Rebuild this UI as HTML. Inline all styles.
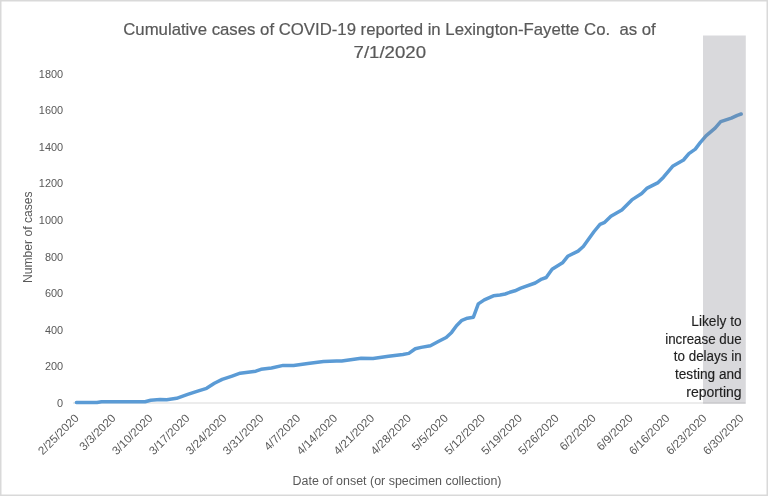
<!DOCTYPE html>
<html><head><meta charset="utf-8"><style>
html,body{margin:0;padding:0;background:#fff;}
body{width:768px;height:496px;overflow:hidden;position:relative;}
svg{position:absolute;left:0;top:0;display:block;will-change:transform;}
text{font-family:"Liberation Sans",sans-serif;}
</style></head><body>
<svg width="768" height="496" viewBox="0 0 768 496">
<rect x="0" y="0" width="768" height="496" fill="#fff"/>
<rect x="0.75" y="0.75" width="766.5" height="494.5" fill="none" stroke="#d9d9d9" stroke-width="1.5"/>
<g fill="#595959" font-size="16.6" stroke="#595959" stroke-width="0.2">
<text xml:space="preserve" x="389.5" y="34.7" text-anchor="middle" textLength="532.5" lengthAdjust="spacingAndGlyphs">Cumulative cases of COVID-19 reported in Lexington-Fayette Co.  as of</text>
<text x="389.8" y="57.5" text-anchor="middle" textLength="72.5" lengthAdjust="spacingAndGlyphs">7/1/2020</text>
</g>
<g fill="#595959" font-size="11.3">
<text x="63.2" y="406.5" text-anchor="end" textLength="6.08" lengthAdjust="spacingAndGlyphs">0</text>
<text x="63.2" y="370.0" text-anchor="end" textLength="18.25" lengthAdjust="spacingAndGlyphs">200</text>
<text x="63.2" y="333.5" text-anchor="end" textLength="18.25" lengthAdjust="spacingAndGlyphs">400</text>
<text x="63.2" y="297.0" text-anchor="end" textLength="18.25" lengthAdjust="spacingAndGlyphs">600</text>
<text x="63.2" y="260.5" text-anchor="end" textLength="18.25" lengthAdjust="spacingAndGlyphs">800</text>
<text x="63.2" y="223.9" text-anchor="end" textLength="24.34" lengthAdjust="spacingAndGlyphs">1000</text>
<text x="63.2" y="187.4" text-anchor="end" textLength="24.34" lengthAdjust="spacingAndGlyphs">1200</text>
<text x="63.2" y="150.9" text-anchor="end" textLength="24.34" lengthAdjust="spacingAndGlyphs">1400</text>
<text x="63.2" y="114.4" text-anchor="end" textLength="24.34" lengthAdjust="spacingAndGlyphs">1600</text>
<text x="63.2" y="77.9" text-anchor="end" textLength="24.34" lengthAdjust="spacingAndGlyphs">1800</text>

</g>
<g fill="#595959" font-size="11.6">
<text transform="translate(76.7,416.0) rotate(-45)" text-anchor="end" dy="4" textLength="51.9" lengthAdjust="spacingAndGlyphs">2/25/2020</text>
<text transform="translate(113.6,416.0) rotate(-45)" text-anchor="end" dy="4" textLength="45.8" lengthAdjust="spacingAndGlyphs">3/3/2020</text>
<text transform="translate(150.6,416.0) rotate(-45)" text-anchor="end" dy="4" textLength="51.9" lengthAdjust="spacingAndGlyphs">3/10/2020</text>
<text transform="translate(187.5,416.0) rotate(-45)" text-anchor="end" dy="4" textLength="51.9" lengthAdjust="spacingAndGlyphs">3/17/2020</text>
<text transform="translate(224.4,416.0) rotate(-45)" text-anchor="end" dy="4" textLength="51.9" lengthAdjust="spacingAndGlyphs">3/24/2020</text>
<text transform="translate(261.4,416.0) rotate(-45)" text-anchor="end" dy="4" textLength="51.9" lengthAdjust="spacingAndGlyphs">3/31/2020</text>
<text transform="translate(298.3,416.0) rotate(-45)" text-anchor="end" dy="4" textLength="45.8" lengthAdjust="spacingAndGlyphs">4/7/2020</text>
<text transform="translate(335.2,416.0) rotate(-45)" text-anchor="end" dy="4" textLength="51.9" lengthAdjust="spacingAndGlyphs">4/14/2020</text>
<text transform="translate(372.2,416.0) rotate(-45)" text-anchor="end" dy="4" textLength="51.9" lengthAdjust="spacingAndGlyphs">4/21/2020</text>
<text transform="translate(409.1,416.0) rotate(-45)" text-anchor="end" dy="4" textLength="51.9" lengthAdjust="spacingAndGlyphs">4/28/2020</text>
<text transform="translate(446.0,416.0) rotate(-45)" text-anchor="end" dy="4" textLength="45.8" lengthAdjust="spacingAndGlyphs">5/5/2020</text>
<text transform="translate(483.0,416.0) rotate(-45)" text-anchor="end" dy="4" textLength="51.9" lengthAdjust="spacingAndGlyphs">5/12/2020</text>
<text transform="translate(519.9,416.0) rotate(-45)" text-anchor="end" dy="4" textLength="51.9" lengthAdjust="spacingAndGlyphs">5/19/2020</text>
<text transform="translate(556.8,416.0) rotate(-45)" text-anchor="end" dy="4" textLength="51.9" lengthAdjust="spacingAndGlyphs">5/26/2020</text>
<text transform="translate(593.7,416.0) rotate(-45)" text-anchor="end" dy="4" textLength="45.8" lengthAdjust="spacingAndGlyphs">6/2/2020</text>
<text transform="translate(630.7,416.0) rotate(-45)" text-anchor="end" dy="4" textLength="45.8" lengthAdjust="spacingAndGlyphs">6/9/2020</text>
<text transform="translate(667.6,416.0) rotate(-45)" text-anchor="end" dy="4" textLength="51.9" lengthAdjust="spacingAndGlyphs">6/16/2020</text>
<text transform="translate(704.5,416.0) rotate(-45)" text-anchor="end" dy="4" textLength="51.9" lengthAdjust="spacingAndGlyphs">6/23/2020</text>
<text transform="translate(741.5,416.0) rotate(-45)" text-anchor="end" dy="4" textLength="51.9" lengthAdjust="spacingAndGlyphs">6/30/2020</text>

</g>
<text transform="translate(32.2,237.2) rotate(-90)" text-anchor="middle" fill="#595959" font-size="12.5" textLength="91.5" lengthAdjust="spacingAndGlyphs">Number of cases</text>
<text x="397.0" y="484.8" text-anchor="middle" fill="#595959" font-size="12.5" textLength="209" lengthAdjust="spacingAndGlyphs">Date of onset (or specimen collection)</text>
<line x1="73" y1="403" x2="745.5" y2="403" stroke="#d9d9d9" stroke-width="1"/>
<polyline points="76.4,402.4 97.0,402.4 101.5,401.7 145.0,401.7 150.7,400.2 160.0,399.4 166.7,399.7 176.6,398.3 187.7,394.4 197.7,391.1 206.6,388.3 214.4,383.3 222.2,379.4 232.1,376.1 240.2,373.2 255.8,371.2 261.0,369.3 271.5,368.0 283.2,365.4 293.6,365.4 307.9,363.4 323.5,361.5 336.5,361.0 341.7,361.0 361.2,358.2 373.0,358.4 388.6,356.2 402.9,354.5 408.8,353.4 415.3,348.8 421.1,347.4 430.4,345.7 438.3,341.5 446.2,337.5 451.6,332.4 456.5,325.7 461.9,320.3 467.4,318.2 473.4,317.2 478.3,303.9 484.3,299.9 493.4,295.8 500.0,295.0 505.2,294.0 509.8,292.3 515.0,290.8 520.8,288.2 535.2,283.0 541.7,279.1 546.2,277.5 552.1,269.3 562.5,262.8 567.7,256.3 578.1,251.1 583.3,246.5 588.5,239.2 594.1,231.5 600.0,224.4 604.7,222.3 610.9,216.2 621.8,209.9 631.8,199.9 641.7,193.5 647.2,188.1 658.1,182.6 663.5,177.2 672.6,166.3 683.5,160.0 688.9,153.6 695.3,149.1 700.2,142.6 706.0,135.8 715.1,128.2 720.7,121.7 731.3,118.1 737.3,115.3 741.2,114.0" fill="none" stroke="#5b9bd5" stroke-width="3.5" stroke-linejoin="round" stroke-linecap="round"/>
<rect x="703" y="35.5" width="42.8" height="368.2" fill="#80808a" fill-opacity="0.3"/>
<g fill="#1f1f1f" font-size="13.8" text-anchor="end" stroke="#1f1f1f" stroke-width="0.15">
<text x="741.6" y="325.8" textLength="50.3" lengthAdjust="spacingAndGlyphs">Likely to</text>
<text x="741.6" y="343.6" textLength="76.4" lengthAdjust="spacingAndGlyphs">increase due</text>
<text x="741.6" y="361.4" textLength="67.8" lengthAdjust="spacingAndGlyphs">to delays in</text>
<text x="741.6" y="379.2" textLength="66.6" lengthAdjust="spacingAndGlyphs">testing and</text>
<text x="741.6" y="397.1" textLength="55.3" lengthAdjust="spacingAndGlyphs">reporting</text>
</g>
</svg>
</body></html>
